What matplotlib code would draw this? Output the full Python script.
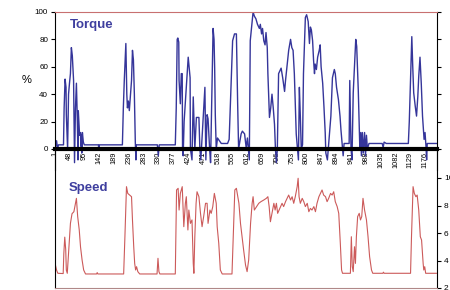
import matplotlib
matplotlib.use('Agg')
import matplotlib.pyplot as plt

plt.rcParams['font.family'] = ['Liberation Sans', 'DejaVu Sans']

# torque (%) - vertices (sample index, value)
torque_idx = [3, 6, 9, 12, 28, 30, 33, 36, 37, 41, 42, 44, 47, 50, 53, 56, 60, 61, 63, 66,
              69, 72, 74, 75, 79, 82, 83, 85, 86, 88, 91, 94, 139, 140, 142, 215, 218, 221, 226, 229,
              231, 234, 237, 241, 244, 247, 250, 253, 256, 258, 259, 326, 329, 332, 383, 386, 389, 391, 394, 395,
              399, 402, 405, 406, 408, 411, 424, 430, 431, 436, 440, 445, 450, 458, 461, 464, 477, 480, 484, 487,
              492, 495, 499, 503, 506, 508, 510, 513, 517, 529, 549, 554, 558, 565, 571, 577, 581, 584, 592, 596,
              603, 608, 612, 615, 618, 621, 630, 634, 639, 644, 650, 653, 657, 660, 664, 668, 671, 675, 677, 682,
              686, 690, 694, 698, 701, 704, 707, 711, 719, 724, 730, 733, 743, 749, 753, 757, 761, 767, 771, 774,
              777, 780, 783, 787, 790, 796, 800, 805, 809, 812, 815, 819, 822, 825, 827, 831, 835, 840, 843, 846,
              851, 855, 859, 861, 866, 872, 877, 882, 888, 891, 895, 901, 906, 909, 914, 916, 919, 935, 937, 941,
              944, 948, 956, 959, 964, 969, 972, 974, 977, 980, 984, 987, 990, 993, 998, 1040, 1043, 1046, 1053, 1123,
              1126, 1134, 1137, 1140, 1145, 1149, 1153, 1156, 1160, 1164, 1168, 1173, 1176, 1179, 1181, 1183, 1212]
torque_val = [2, 6, 0, 3, 3, 30, 51, 45, 25, 0, 15, 40, 48, 55, 74, 68, 50, 28, -10, 30,
              48, 20, -8, 28, 10, 12, 2, 10, -3, 12, 5, 3, 3, -1, 3, 3, 30, 50, 77, 40,
              30, 35, 28, 40, 50, 72, 65, 40, 5, -8, 3, 3, -5, 3, 3, 30, 80, 81, 78, 50,
              33, 55, 55, 0, -5, 20, 67, 52, 0, -8, 38, 0, 23, 23, 0, -8, 45, -8, 25, 22,
              0, -10, 40, 88, 80, 59, 25, 0, 8, 4, 4, 7, 33, 79, 84, 84, 33, 0, 11, 13,
              11, 1, 8, 0, -8, 79, 100, 97, 95, 91, 88, 91, 84, 88, 79, 76, 85, 74, 55, 23,
              30, 40, 30, 18, 0, -10, 0, 55, 59, 52, 42, 50, 72, 80, 74, 72, 55, 11, 0, -8,
              45, 24, 0, 3, 55, 96, 98, 93, 77, 89, 87, 79, 65, 55, 62, 58, 67, 72, 76, 60,
              48, 31, 12, -3, -8, 10, 24, 52, 58, 55, 45, 36, 24, 14, 0, -5, 4, 4, 50, 0,
              -8, 41, 80, 75, 43, 0, 12, -5, 12, -3, 12, -5, 10, 0, 4, 4, 1, 5, 4, 4,
              20, 82, 60, 41, 31, 24, 38, 53, 67, 48, 24, 7, 12, 2, -8, 4, 4]

# speed - vertices
speed_idx = [2, 6, 10, 27, 29, 32, 35, 37, 40, 42, 45, 50, 55, 61, 66, 69, 73, 78, 82, 87,
             92, 98, 133, 135, 137, 219, 223, 228, 232, 238, 244, 247, 251, 254, 257, 260, 264, 270, 325, 328,
             331, 334, 383, 387, 392, 395, 399, 405, 410, 415, 418, 423, 426, 431, 436, 440, 442, 445, 449, 452,
             458, 463, 468, 473, 479, 484, 487, 493, 497, 502, 507, 513, 516, 521, 526, 532, 563, 567, 572, 577,
             585, 590, 595, 600, 606, 611, 616, 622, 627, 630, 634, 641, 648, 655, 664, 672, 677, 681, 685, 690,
             696, 700, 704, 708, 715, 722, 727, 733, 738, 743, 749, 754, 759, 764, 770, 773, 776, 780, 786, 791,
             796, 802, 807, 812, 817, 823, 828, 833, 839, 844, 849, 854, 860, 865, 870, 876, 881, 886, 891, 897,
             902, 907, 911, 914, 939, 942, 945, 948, 952, 955, 958, 962, 967, 971, 975, 979, 984, 990, 995, 1000,
             1006, 1010, 1042, 1044, 1046, 1130, 1133, 1138, 1142, 1147, 1151, 1156, 1161, 1165, 1170, 1172, 1175, 1178, 1212]
speed_val = [3.7, 3.3, 3.07, 3.05, 4.5, 5.7, 4.8, 3.3, 3.07, 3.8, 5.0, 6.7, 7.4, 7.55, 8.16, 8.52, 7.2, 6.22, 5.0, 4.04,
             3.31, 3.02, 3.02, 3.12, 3.02, 3.02, 5.73, 9.37, 8.88, 8.76, 8.64, 6.95, 5.0, 3.79, 3.31, 3.55, 3.19, 3.02, 3.02, 4.16,
             3.19, 3.02, 3.02, 9.13, 9.25, 7.67, 8.88, 9.37, 6.46, 8.16, 8.64, 6.22, 7.67, 6.7, 6.95, 3.79, 3.07, 5.73, 8.16, 9.0,
             8.64, 7.43, 6.46, 7.19, 8.16, 8.16, 6.7, 7.67, 7.43, 7.92, 8.88, 8.16, 6.46, 5.25, 3.31, 3.02, 3.02, 5.73, 9.13, 9.25,
             8.16, 6.7, 5.73, 4.76, 3.67, 3.19, 4.04, 6.7, 8.16, 8.64, 7.67, 7.92, 8.16, 8.28, 8.4, 8.52, 8.64, 7.92, 6.82, 7.43,
             8.16, 7.67, 8.16, 7.43, 7.79, 8.16, 7.92, 8.28, 8.52, 8.76, 8.4, 8.64, 8.16, 8.64, 9.37, 9.98, 8.64, 8.16, 8.52, 8.28,
             7.92, 8.16, 7.55, 7.79, 7.67, 7.92, 7.55, 8.16, 8.64, 8.88, 9.13, 8.76, 8.64, 8.28, 8.52, 8.88, 8.76, 9.0, 8.28, 7.92,
             7.43, 5.25, 3.31, 3.07, 3.07, 5.73, 3.55, 3.19, 5.0, 3.79, 5.73, 7.19, 7.43, 6.95, 7.19, 8.52, 7.67, 6.95, 5.73, 4.28,
             3.31, 3.07, 3.07, 3.15, 3.07, 3.07, 5.73, 9.37, 8.88, 8.64, 8.76, 7.67, 5.73, 5.49, 3.79, 3.31, 3.55, 3.07, 3.07]

xtick_pos = list(range(1, 1177, 47))
xtick_labels = [str(p) for p in xtick_pos]
torque_ticks = [0, 20, 40, 60, 80, 100]
speed_ticks = [2, 4, 6, 8, 10]

fig = plt.figure(figsize=(4.5, 2.9), dpi=100)
ax2 = fig.add_axes([55/450, 2/290, 382/450, 137.5/290])
ax1 = fig.add_axes([55/450, (290-169.5)/290, 382/450, 157.5/290])

# torque panel
# spine position first: moving it rebuilds the tick objects
ax1.spines['bottom'].set_position(('data', 0))
ax1.spines['bottom'].set_linewidth(3)
ax1.plot(torque_idx, torque_val, color='#35359a', lw=1.0)
ax1.set_xlim(1, 1214)
ax1.set_ylim(-15, 100)
ax1.set_yticks(torque_ticks)
ax1.tick_params(axis='y', direction='out', length=3, width=0.8, labelsize=5.8,
                left=True, right=True, labelright=False, pad=2)
ax1.set_xticks(xtick_pos)
ax1.set_xticklabels(xtick_labels)
ax1.tick_params(axis='x', length=0, pad=2, labelrotation=90, labelsize=5.3)
ax1.spines['top'].set_color('#c87070')
ax1.spines['top'].set_linewidth(0.8)
ax1.spines['left'].set_linewidth(0.8)
ax1.spines['right'].set_linewidth(0.8)
ax1.patch.set_visible(False)
ax1.text(0.04, 0.915, 'Torque', transform=ax1.transAxes, fontsize=9.5,
         fontweight='bold', color='#3f3f9f', va='center')
fig.text(27/450, 1 - 80/290, '%', fontsize=8, ha='center', va='center')

# speed panel
ax2.plot(speed_idx, speed_val, color='#cc5a5a', lw=0.8)
ax2.set_xlim(1, 1214)
ax2.set_ylim(2, 12)
ax2.set_xticks([])
ax2.set_yticks(speed_ticks)
ax2.yaxis.tick_right()
ax2.tick_params(axis='y', direction='out', length=3, width=0.8, labelsize=6, pad=2)
ax2.spines['top'].set_visible(False)
ax2.spines['bottom'].set_color('#b08888')
ax2.spines['bottom'].set_linewidth(0.8)
ax2.spines['left'].set_linewidth(0.8)
ax2.spines['right'].set_linewidth(0.8)
ax2.patch.set_visible(False)
ax2.text(0.035, 0.727, 'Speed', transform=ax2.transAxes, fontsize=9.5,
         fontweight='bold', color='#3f3f9f', va='center')

fig.savefig('out.png', dpi=100, facecolor='white')
